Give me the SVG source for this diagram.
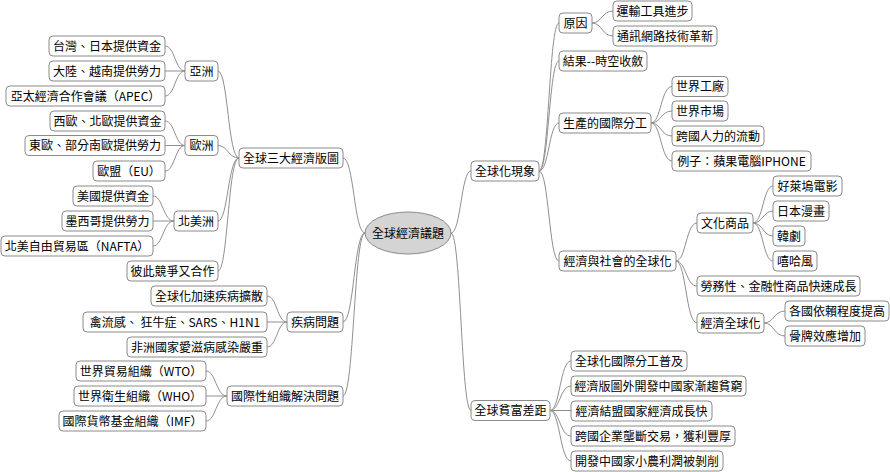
<svg xmlns="http://www.w3.org/2000/svg" width="890" height="472" viewBox="0 0 890 472">
<style>
.n rect{fill:#fff;stroke:#8a8a8a;stroke-width:1}
.n text,.c text{font-family:"Noto Sans CJK TC","Noto Sans CJK SC",sans-serif;font-size:12px;fill:#000;text-anchor:middle}
#links path{fill:none;stroke:#8f8f8f;stroke-width:1}
</style>
<rect x="0" y="0" width="890" height="472" fill="#fff"/>
<g id="links">
<path d="M365,233 C354,233 354,158 343,158"/>
<path d="M365,233 C354,233 354,322 343,322"/>
<path d="M365,233 C354,233 354,396 343,396"/>
<path d="M451,233 C461,233 461,171 471,171"/>
<path d="M451,233 C461,233 461,410.5 471,410.5"/>
<path d="M239,158 C228,158 228,71 218,71"/>
<path d="M239,158 C228,158 228,145.5 218,145.5"/>
<path d="M239,158 C228,158 228,221 218,221"/>
<path d="M239,158 C228,158 228,271 218,271"/>
<path d="M185,71 C175,71 175,46 165,46"/>
<path d="M185,71 L165,71"/>
<path d="M185,71 C175,71 175,96 165,96"/>
<path d="M185,145.5 C175,145.5 175,121 165,121"/>
<path d="M185,145.5 L165,145.5"/>
<path d="M185,145.5 C175,145.5 175,171 165,171"/>
<path d="M174,221 C163,221 163,196 153,196"/>
<path d="M174,221 L153,221"/>
<path d="M174,221 C163,221 163,246 153,246"/>
<path d="M287,322 C277,322 277,296 267,296"/>
<path d="M287,322 L267,322"/>
<path d="M287,322 C277,322 277,347 267,347"/>
<path d="M227,396 C216,396 216,371 206,371"/>
<path d="M227,396 L206,396"/>
<path d="M227,396 C216,396 216,421 206,421"/>
<path d="M539,171 C549,171 549,23 559,23"/>
<path d="M539,171 C549,171 549,61 559,61"/>
<path d="M539,171 C549,171 549,123 559,123"/>
<path d="M539,171 C549,171 549,261 559,261"/>
<path d="M592,23 C602,23 602,11 613,11"/>
<path d="M592,23 C602,23 602,36 613,36"/>
<path d="M651,123 C661,123 661,86.5 672,86.5"/>
<path d="M651,123 C661,123 661,111 672,111"/>
<path d="M651,123 C661,123 661,136 672,136"/>
<path d="M651,123 C661,123 661,161 672,161"/>
<path d="M676,261 C686,261 686,223 697,223"/>
<path d="M676,261 C686,261 686,286 697,286"/>
<path d="M676,261 C686,261 686,323 697,323"/>
<path d="M753,223 C763,223 763,186 773,186"/>
<path d="M753,223 C763,223 763,211 773,211"/>
<path d="M753,223 C763,223 763,236 773,236"/>
<path d="M753,223 C763,223 763,261 773,261"/>
<path d="M764,323 C774,323 774,311 785,311"/>
<path d="M764,323 C774,323 774,336 785,336"/>
<path d="M550,410.5 C560,410.5 560,361 571,361"/>
<path d="M550,410.5 C560,410.5 560,386 571,386"/>
<path d="M550,410.5 L571,410.5"/>
<path d="M550,410.5 C560,410.5 560,436 571,436"/>
<path d="M550,410.5 C560,410.5 560,461 571,461"/>
</g>
<g id="center" class="c">
<ellipse cx="408" cy="233" rx="43" ry="21" fill="#d4d4d4" stroke="#8a8a8a"/>
<text x="408" y="237.5">全球經濟議題</text>
</g>
<g id="n-sanda" class="n"><rect x="239" y="148" width="104" height="20" rx="4"/><text x="291" y="162.5">全球三大經濟版圖</text></g>
<g id="n-asia" class="n"><rect x="185" y="61" width="33" height="20" rx="4"/><text x="201.5" y="75.5">亞洲</text></g>
<g id="n-asia1" class="n"><rect x="49" y="36" width="116" height="20" rx="4"/><text x="107" y="50.5">台灣、日本提供資金</text></g>
<g id="n-asia2" class="n"><rect x="49" y="61" width="116" height="20" rx="4"/><text x="107" y="75.5">大陸、越南提供勞力</text></g>
<g id="n-asia3" class="n"><rect x="6" y="86" width="159" height="20" rx="4"/><text x="85.5" y="100.5">亞太經濟合作會議（APEC）</text></g>
<g id="n-eu" class="n"><rect x="185" y="135.5" width="33" height="20" rx="4"/><text x="201.5" y="150">歐洲</text></g>
<g id="n-eu1" class="n"><rect x="50" y="111" width="115" height="20" rx="4"/><text x="107.5" y="125.5">西歐、北歐提供資金</text></g>
<g id="n-eu2" class="n"><rect x="25" y="135.5" width="140" height="20" rx="4"/><text x="95" y="150">東歐、部分南歐提供勞力</text></g>
<g id="n-eu3" class="n"><rect x="93" y="161" width="72" height="20" rx="4"/><text x="129" y="175.5">歐盟（EU）</text></g>
<g id="n-na" class="n"><rect x="174" y="211" width="44" height="20" rx="4"/><text x="196" y="225.5">北美洲</text></g>
<g id="n-na1" class="n"><rect x="73" y="186" width="80" height="20" rx="4"/><text x="113" y="200.5">美國提供資金</text></g>
<g id="n-na2" class="n"><rect x="62" y="211" width="91" height="20" rx="4"/><text x="107.5" y="225.5">墨西哥提供勞力</text></g>
<g id="n-na3" class="n"><rect x="1" y="236" width="152" height="20" rx="4"/><text x="77" y="250.5">北美自由貿易區（NAFTA）</text></g>
<g id="n-comp" class="n"><rect x="127" y="261" width="91" height="20" rx="4"/><text x="172.5" y="275.5">彼此競爭又合作</text></g>
<g id="n-dis" class="n"><rect x="287" y="312" width="56" height="20" rx="4"/><text x="315" y="326.5">疾病問題</text></g>
<g id="n-dis1" class="n"><rect x="151" y="286" width="116" height="20" rx="4"/><text x="209" y="300.5">全球化加速疾病擴散</text></g>
<g id="n-dis2" class="n"><rect x="83" y="312" width="184" height="20" rx="4"/><text x="175" y="326.5">禽流感、 狂牛症、SARS、H1N1</text></g>
<g id="n-dis3" class="n"><rect x="127" y="337" width="140" height="20" rx="4"/><text x="197" y="351.5">非洲國家愛滋病感染嚴重</text></g>
<g id="n-org" class="n"><rect x="227" y="386" width="116" height="20" rx="4"/><text x="285" y="400.5">國際性組織解決問題</text></g>
<g id="n-org1" class="n"><rect x="76" y="361" width="130" height="20" rx="4"/><text x="141" y="375.5">世界貿易組織（WTO）</text></g>
<g id="n-org2" class="n"><rect x="74" y="386" width="132" height="20" rx="4"/><text x="140" y="400.5">世界衛生組織（WHO）</text></g>
<g id="n-org3" class="n"><rect x="59" y="411" width="147" height="20" rx="4"/><text x="132.5" y="425.5">國際貨幣基金組織（IMF）</text></g>
<g id="n-phen" class="n"><rect x="471" y="161" width="68" height="20" rx="4"/><text x="505" y="175.5">全球化現象</text></g>
<g id="n-cause" class="n"><rect x="559" y="13" width="33" height="20" rx="4"/><text x="575.5" y="27.5">原因</text></g>
<g id="n-cause1" class="n"><rect x="613" y="1" width="79" height="20" rx="4"/><text x="652.5" y="15.5">運輸工具進步</text></g>
<g id="n-cause2" class="n"><rect x="613" y="26" width="104" height="20" rx="4"/><text x="665" y="40.5">通訊網路技術革新</text></g>
<g id="n-result" class="n"><rect x="559" y="51" width="88" height="20" rx="4"/><text x="603" y="65.5">結果--時空收斂</text></g>
<g id="n-prod" class="n"><rect x="559" y="113" width="92" height="20" rx="4"/><text x="605" y="127.5">生產的國際分工</text></g>
<g id="n-prod1" class="n"><rect x="672" y="76.5" width="56" height="20" rx="4"/><text x="700" y="91">世界工廠</text></g>
<g id="n-prod2" class="n"><rect x="672" y="101" width="56" height="20" rx="4"/><text x="700" y="115.5">世界市場</text></g>
<g id="n-prod3" class="n"><rect x="672" y="126" width="92" height="20" rx="4"/><text x="718" y="140.5">跨國人力的流動</text></g>
<g id="n-prod4" class="n"><rect x="672" y="151" width="139" height="20" rx="4"/><text x="741.5" y="165.5">例子：蘋果電腦IPHONE</text></g>
<g id="n-soc" class="n"><rect x="559" y="251" width="117" height="20" rx="4"/><text x="617.5" y="265.5">經濟與社會的全球化</text></g>
<g id="n-cul" class="n"><rect x="697" y="213" width="56" height="20" rx="4"/><text x="725" y="227.5">文化商品</text></g>
<g id="n-cul1" class="n"><rect x="773" y="176" width="69" height="20" rx="4"/><text x="807.5" y="190.5">好萊塢電影</text></g>
<g id="n-cul2" class="n"><rect x="773" y="201" width="56" height="20" rx="4"/><text x="801" y="215.5">日本漫畫</text></g>
<g id="n-cul3" class="n"><rect x="773" y="226" width="32" height="20" rx="4"/><text x="789" y="240.5">韓劇</text></g>
<g id="n-cul4" class="n"><rect x="773" y="251" width="44" height="20" rx="4"/><text x="795" y="265.5">嘻哈風</text></g>
<g id="n-serv" class="n"><rect x="697" y="276" width="163" height="20" rx="4"/><text x="778.5" y="290.5">勞務性、金融性商品快速成長</text></g>
<g id="n-eco" class="n"><rect x="697" y="313" width="67" height="20" rx="4"/><text x="730.5" y="327.5">經濟全球化</text></g>
<g id="n-eco1" class="n"><rect x="785" y="301" width="104" height="20" rx="4"/><text x="837" y="315.5">各國依賴程度提高</text></g>
<g id="n-eco2" class="n"><rect x="785" y="326" width="80" height="20" rx="4"/><text x="825" y="340.5">骨牌效應增加</text></g>
<g id="n-gap" class="n"><rect x="471" y="400.5" width="79" height="20" rx="4"/><text x="510.5" y="415">全球貧富差距</text></g>
<g id="n-gap1" class="n"><rect x="571" y="351" width="116" height="20" rx="4"/><text x="629" y="365.5">全球化國際分工普及</text></g>
<g id="n-gap2" class="n"><rect x="571" y="376" width="175" height="20" rx="4"/><text x="658.5" y="390.5">經濟版圖外開發中國家漸趨貧窮</text></g>
<g id="n-gap3" class="n"><rect x="571" y="401" width="141" height="20" rx="4"/><text x="641.5" y="415.5">經濟結盟國家經濟成長快</text></g>
<g id="n-gap4" class="n"><rect x="571" y="426" width="164" height="20" rx="4"/><text x="653" y="440.5">跨國企業壟斷交易，獲利豐厚</text></g>
<g id="n-gap5" class="n"><rect x="571" y="451" width="152" height="20" rx="4"/><text x="647" y="465.5">開發中國家小農利潤被剝削</text></g>
</svg>
